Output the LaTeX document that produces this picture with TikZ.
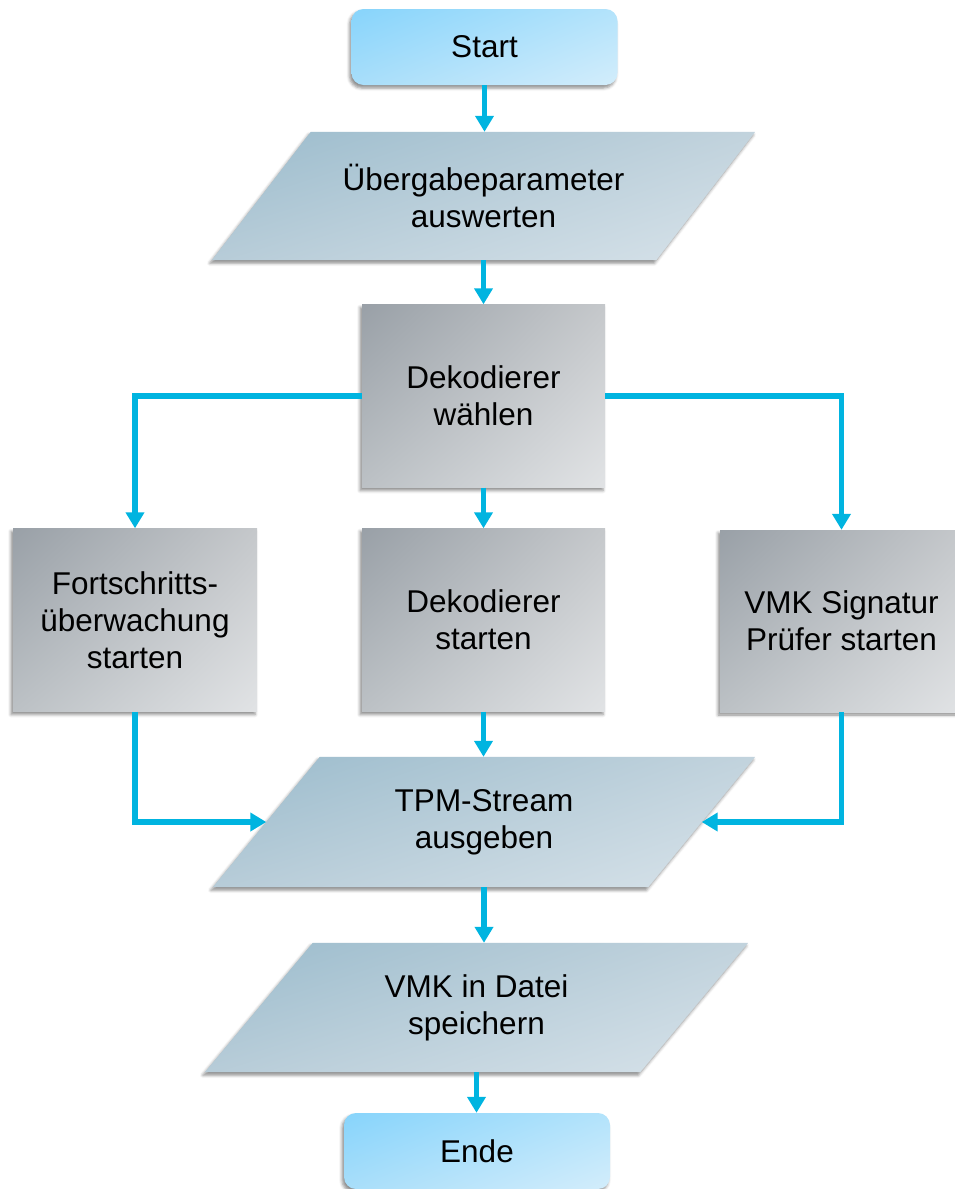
\documentclass[tikz,border=0pt]{standalone}
\usepackage{fontspec}
\setmainfont{Liberation Sans}
\usetikzlibrary{arrows.meta,shadows.blur,backgrounds,calc,shadings}
\definecolor{arrowc}{HTML}{00B4E0}
\definecolor{termA}{HTML}{87D4FB}
\definecolor{termB}{HTML}{B3E3FB}
\definecolor{termL}{HTML}{A8DEFA}
\definecolor{termC}{HTML}{D3EDFB}
\definecolor{paraA}{HTML}{9ABBCC}
\definecolor{paraB}{HTML}{C2D3DD}
\definecolor{paraL}{HTML}{B7CCD8}
\definecolor{paraC}{HTML}{D8E3EA}
\definecolor{grayA}{HTML}{99A0A7}
\definecolor{grayB}{HTML}{C5C8CB}
\definecolor{grayL}{HTML}{BCC1C5}
\definecolor{grayC}{HTML}{E1E3E5}
\tikzset{
  lbl/.style={align=center, font=\fontsize{31.5}{37}\selectfont, inner sep=0pt, text=black},
  shad/.style={blur shadow={shadow xshift=-2pt, shadow yshift=-3pt, shadow blur radius=3pt, shadow opacity=45}},
  termbox/.style={lbl, shad, rounded corners=12pt, minimum width=266pt, minimum height=76pt,
    upper left=termA, upper right=termB, lower left=termL, lower right=termC},
  graybox/.style={lbl, shad, minimum width=243pt, minimum height=183pt,
    upper left=grayA, upper right=grayB, lower left=grayL, lower right=grayC},
  paratext/.style={lbl, minimum height=129pt},
  parafill/.style={shad, upper left=paraA, upper right=paraB, lower left=paraL, lower right=paraC},
  arr/.style={draw=arrowc, line width=5.5pt, -{Triangle[width=18pt,length=16pt]}},
}
\begin{document}
\begin{tikzpicture}[x=1pt,y=-1pt]
\useasboundingbox (0,0) rectangle (955,1189);

\node (start) [termbox] at (484.5,47) {Start};
\node (p1) [paratext, minimum width=444pt, minimum height=128pt] at (483.5,196) {Übergabeparameter\\auswerten};
\node (dek) [graybox] at (483.5,396) {Dekodierer\\wählen};
\node (fort) [graybox, minimum width=244pt] at (135,620) {Fortschritts-\\überwachung\\starten};
\node (dstart) [graybox] at (483.5,620) {Dekodierer\\starten};
\node (vmk) [graybox, minimum height=182pt] at (841.5,621) {VMK Signatur\\Prüfer starten};
\node (tpm) [paratext, minimum width=435pt, minimum height=130pt] at (484,822) {TPM-Stream\\ausgeben};
\node (save) [paratext, minimum width=435pt] at (476.5,1007.5) {VMK in Datei\\speichern};
\node (ende) [termbox] at (477,1151) {Ende};

\begin{scope}[on background layer]
  \path[parafill] ([xshift=49.5pt]p1.north west) -- ([xshift=49.5pt]p1.north east)
     -- ([xshift=-49.5pt]p1.south east) -- ([xshift=-49.5pt]p1.south west) -- cycle;
  \path[parafill] ([xshift=53.5pt]tpm.north west) -- ([xshift=53.5pt]tpm.north east)
     -- ([xshift=-53.5pt]tpm.south east) -- ([xshift=-53.5pt]tpm.south west) -- cycle;
  \path[parafill] ([xshift=54pt]save.north west) -- ([xshift=54pt]save.north east)
     -- ([xshift=-54pt]save.south east) -- ([xshift=-54pt]save.south west) -- cycle;
\end{scope}

\draw[arr] (start.south) -- (start.south |- p1.north);
\draw[arr] (p1.south) -- (p1.south |- dek.north);
\draw[arr] (dek.south) -- (dek.south |- dstart.north);
\draw[arr] (dek.west) -| (fort.north);
\draw[arr] (dek.east) -| (vmk.north);
\draw[arr] (fort.south) |- (tpm.west);
\draw[arr] (vmk.south) |- (tpm.east);
\draw[arr] (dstart.south) -- (dstart.south |- tpm.north);
\draw[arr] (tpm.south) -- (tpm.south |- save.north);
\draw[arr] (save.south) -- (save.south |- ende.north);
\end{tikzpicture}
\end{document}
